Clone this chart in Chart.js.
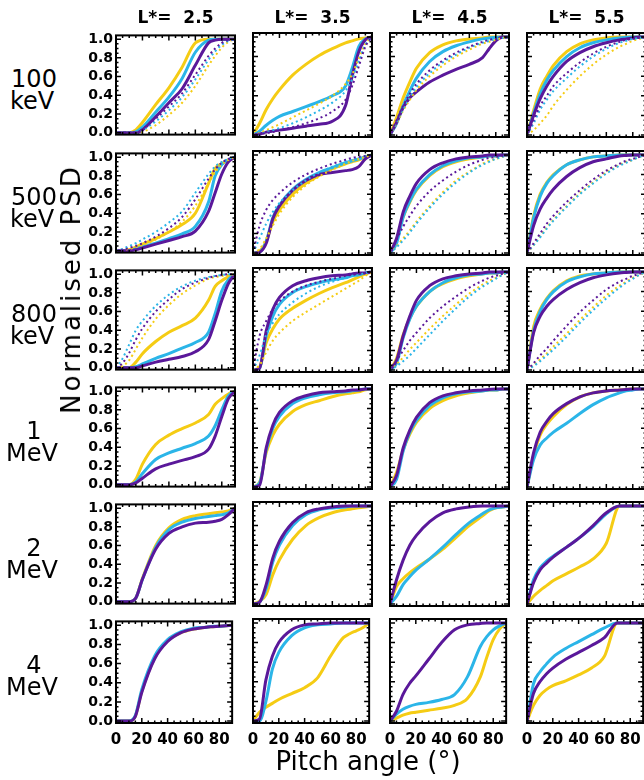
<!DOCTYPE html>
<html>
<head>
<title>Normalised PSD vs pitch angle</title>
<script src="https://cdn.jsdelivr.net/npm/chart.js@4.4.1/dist/chart.umd.min.js"></script>
<style>
body { margin: 0; width: 644px; height: 780px; overflow: hidden; background: #fff; position: relative; font-family: "DejaVu Sans", sans-serif; }
canvas { position: absolute; }
.lbl { position: absolute; white-space: pre; color: #000; transform: translate(-50%, -50%); line-height: 1; }
</style>
</head>
<body>
<script>
// pitch angle grid (deg) shared by every curve
var pitch = [0, 5, 10, 15, 20, 30, 40, 50, 60, 70, 75, 80, 85, 90];
var xTicks = [0, 20, 40, 60, 80];
var yTicks = [0, 0.2, 0.4, 0.6, 0.8, 1.0];
var lStars = ['2.5', '3.5', '4.5', '5.5'];
var energies = ['100', '500', '800', '1', '2', '4'];
var units = ['keV', 'keV', 'keV', 'MeV', 'MeV', 'MeV'];
var colours = ['#5a189a', '#2bb5e8', '#f5cc14'];

// each panel: [purple, cyan, yellow]
var e100_L25 = [[0,0,0,0,0.03,0.17,0.32,0.47,0.72,0.96,0.99,1,1,1],
                [0,0,0,0.01,0.06,0.22,0.38,0.58,0.86,0.99,1,1,1,1],
                [0,0,0,0.03,0.11,0.3,0.48,0.7,0.96,1,1,1,1,1]];
var e100_L25_dot = [[0,0,0,0,0.04,0.15,0.28,0.42,0.62,0.82,0.9,0.96,0.99,1],
                    [0,0,0,0,0.03,0.12,0.24,0.38,0.57,0.78,0.87,0.94,0.98,1],
                    [0,0,0,0,0.01,0.08,0.19,0.32,0.5,0.72,0.82,0.91,0.97,1]];
var e100_L35 = [[0,0.01,0.03,0.04,0.05,0.07,0.09,0.11,0.14,0.3,0.6,0.85,0.97,1],
                [0,0.04,0.1,0.15,0.19,0.24,0.29,0.34,0.4,0.5,0.68,0.9,0.98,1],
                [0,0.12,0.26,0.37,0.46,0.61,0.72,0.81,0.88,0.94,0.96,0.98,0.99,1]];
var e100_L35_dot = [[0,0.01,0.02,0.03,0.05,0.08,0.12,0.17,0.24,0.36,0.5,0.7,0.9,1],
                    [0,0.01,0.03,0.05,0.07,0.12,0.18,0.25,0.33,0.45,0.57,0.75,0.92,1],
                    [0,0.02,0.05,0.08,0.11,0.18,0.25,0.32,0.4,0.52,0.62,0.78,0.93,1]];
var e100_L45 = [[0,0.13,0.28,0.38,0.44,0.54,0.61,0.67,0.72,0.79,0.88,0.96,1,1],
                [0,0.12,0.3,0.45,0.58,0.75,0.85,0.91,0.95,0.98,0.99,0.995,1,1],
                [0,0.18,0.38,0.54,0.68,0.84,0.92,0.96,0.98,0.99,1,1,1,1]];
var e100_L45_dot = [[0,0.15,0.3,0.42,0.52,0.66,0.76,0.84,0.9,0.95,0.97,0.98,0.99,1],
                    [0,0.13,0.27,0.39,0.49,0.63,0.74,0.82,0.89,0.94,0.96,0.98,0.99,1],
                    [0,0.12,0.25,0.36,0.46,0.6,0.71,0.8,0.87,0.93,0.95,0.97,0.99,1]];
var e100_L55 = [[0,0.2,0.37,0.5,0.6,0.75,0.84,0.9,0.94,0.97,0.98,0.99,1,1],
                [0,0.22,0.42,0.56,0.66,0.8,0.89,0.94,0.97,0.99,0.995,1,1,1],
                [0,0.25,0.47,0.6,0.71,0.85,0.93,0.97,0.99,1,1,1,1,1]];
var e100_L55_dot = [[0,0.15,0.3,0.4,0.5,0.63,0.74,0.83,0.9,0.95,0.97,0.98,0.99,1],
                    [0,0.12,0.26,0.36,0.45,0.58,0.7,0.8,0.88,0.94,0.96,0.98,0.99,1],
                    [0,0.05,0.12,0.2,0.3,0.46,0.6,0.72,0.82,0.9,0.93,0.96,0.98,1]];

var e500_L25 = [[0,0,0,0.01,0.03,0.07,0.11,0.15,0.21,0.42,0.62,0.82,0.95,1],
                [0,0,0,0.02,0.04,0.08,0.13,0.18,0.26,0.52,0.8,0.92,0.97,1],
                [0,0,0.01,0.04,0.07,0.13,0.2,0.28,0.4,0.72,0.88,0.93,0.97,1]];
var e500_L25_dot = [[0,0.01,0.03,0.05,0.08,0.15,0.24,0.36,0.55,0.77,0.87,0.94,0.98,1],
                    [0,0.02,0.05,0.08,0.12,0.2,0.3,0.42,0.62,0.82,0.9,0.95,0.98,1],
                    [0,0.01,0.02,0.04,0.06,0.12,0.2,0.31,0.48,0.72,0.84,0.92,0.97,1]];
var e500_L35 = [[0,0.01,0.1,0.35,0.48,0.64,0.74,0.8,0.82,0.84,0.85,0.88,0.96,1],
                [0,0.01,0.12,0.36,0.49,0.65,0.75,0.82,0.87,0.92,0.94,0.96,0.98,1],
                [0,0.02,0.12,0.32,0.44,0.6,0.71,0.79,0.86,0.91,0.93,0.95,0.98,1]];
var e500_L35_dot = [[0,0.28,0.44,0.54,0.61,0.72,0.8,0.86,0.91,0.95,0.97,0.98,0.99,1],
                    [0,0.15,0.3,0.42,0.51,0.64,0.74,0.82,0.88,0.93,0.95,0.97,0.99,1],
                    [0,0.04,0.15,0.28,0.4,0.57,0.69,0.78,0.85,0.91,0.94,0.96,0.98,1]];
var e500_L45 = [[0,0.15,0.42,0.58,0.71,0.85,0.92,0.96,0.98,0.99,1,1,1,1],
                [0,0.1,0.37,0.53,0.65,0.8,0.89,0.94,0.97,0.98,0.99,0.99,1,1],
                [0,0.14,0.37,0.52,0.64,0.79,0.88,0.93,0.96,0.98,0.99,0.99,1,1]];
var e500_L45_dot = [[0,0.14,0.27,0.38,0.48,0.63,0.74,0.83,0.9,0.95,0.97,0.98,0.99,1],
                    [0,0.06,0.13,0.21,0.3,0.46,0.6,0.72,0.82,0.9,0.93,0.96,0.98,1],
                    [0,0.07,0.15,0.23,0.32,0.48,0.62,0.74,0.83,0.91,0.94,0.96,0.98,1]];
var e500_L55 = [[0,0.28,0.45,0.56,0.65,0.78,0.87,0.93,0.96,0.99,0.995,1,1,1],
                [0,0.36,0.58,0.71,0.79,0.9,0.95,0.98,0.99,1,1,1,1,1],
                [0,0.38,0.6,0.72,0.8,0.9,0.95,0.98,0.99,1,1,1,1,1]];
var e500_L55_dot = [[0,0.1,0.2,0.3,0.38,0.52,0.64,0.75,0.84,0.91,0.94,0.96,0.98,1],
                    [0,0.08,0.16,0.25,0.33,0.47,0.6,0.71,0.81,0.89,0.92,0.95,0.98,1],
                    [0,0.08,0.17,0.26,0.34,0.48,0.61,0.72,0.82,0.9,0.93,0.95,0.98,1]];

var e800_L25 = [[0,0,0,0,0.02,0.06,0.09,0.12,0.17,0.3,0.5,0.72,0.9,1],
                [0,0,0,0.01,0.04,0.1,0.15,0.21,0.27,0.38,0.58,0.82,0.94,1],
                [0,0,0,0.06,0.15,0.28,0.38,0.45,0.53,0.72,0.87,0.93,0.97,1]];
var e800_L25_dot = [[0,0.05,0.16,0.3,0.42,0.6,0.73,0.84,0.91,0.96,0.98,0.99,1,1],
                    [0,0.1,0.25,0.4,0.5,0.66,0.78,0.87,0.93,0.97,0.98,0.99,1,1],
                    [0,0.02,0.08,0.2,0.32,0.52,0.67,0.79,0.88,0.95,0.97,0.98,0.99,1]];
var e800_L35 = [[0,0.02,0.4,0.62,0.74,0.86,0.91,0.94,0.96,0.97,0.98,0.99,0.99,1],
                [0,0.02,0.35,0.55,0.67,0.79,0.85,0.89,0.92,0.94,0.96,0.97,0.99,1],
                [0,0.03,0.28,0.42,0.52,0.63,0.71,0.78,0.84,0.89,0.92,0.95,0.98,1]];
var e800_L35_dot = [[0,0.35,0.5,0.62,0.7,0.8,0.86,0.9,0.93,0.96,0.97,0.98,0.99,1],
                    [0,0.15,0.36,0.48,0.57,0.69,0.78,0.85,0.9,0.94,0.96,0.97,0.99,1],
                    [0,0.05,0.18,0.3,0.38,0.5,0.59,0.67,0.75,0.83,0.87,0.91,0.96,1]];
var e800_L45 = [[0,0.1,0.35,0.55,0.71,0.86,0.93,0.96,0.98,0.99,1,1,1,1],
                [0,0.07,0.33,0.52,0.65,0.8,0.89,0.94,0.97,0.98,0.99,0.99,1,1],
                [0,0.12,0.36,0.53,0.65,0.8,0.88,0.93,0.96,0.98,0.99,0.99,1,1]];
var e800_L45_dot = [[0,0.1,0.2,0.3,0.38,0.53,0.65,0.75,0.84,0.91,0.94,0.96,0.98,1],
                    [0,0.04,0.09,0.15,0.22,0.36,0.5,0.63,0.75,0.85,0.89,0.93,0.97,1],
                    [0,0.06,0.13,0.21,0.28,0.42,0.55,0.67,0.78,0.87,0.91,0.94,0.97,1]];
var e800_L55 = [[0,0.38,0.55,0.65,0.72,0.82,0.89,0.94,0.97,0.99,0.995,1,1,1],
                [0,0.4,0.6,0.72,0.8,0.9,0.95,0.98,0.99,1,1,1,1,1],
                [0,0.44,0.62,0.73,0.81,0.91,0.96,0.98,0.99,1,1,1,1,1]];
var e800_L55_dot = [[0,0.07,0.15,0.22,0.3,0.45,0.59,0.71,0.82,0.9,0.93,0.96,0.98,1],
                    [0,0.04,0.09,0.15,0.21,0.34,0.48,0.61,0.73,0.84,0.89,0.93,0.97,1],
                    [0,0.05,0.11,0.17,0.24,0.37,0.51,0.64,0.76,0.86,0.9,0.94,0.97,1]];

var e1M_L25 = [[0,0,0,0.02,0.07,0.17,0.22,0.26,0.3,0.38,0.52,0.73,0.92,1],
               [0,0,0,0.03,0.12,0.27,0.34,0.39,0.44,0.52,0.63,0.8,0.95,1],
               [0,0,0,0.06,0.22,0.43,0.53,0.6,0.66,0.75,0.86,0.92,0.97,1]];
var e1M_L35 = [[0,0.02,0.4,0.63,0.76,0.88,0.93,0.96,0.97,0.98,0.99,0.99,1,1],
               [0,0.04,0.38,0.6,0.72,0.85,0.91,0.94,0.96,0.97,0.98,0.99,1,1],
               [0,0.05,0.35,0.53,0.64,0.77,0.84,0.88,0.92,0.95,0.96,0.97,0.99,1]];
var e1M_L45 = [[0,0.12,0.4,0.58,0.71,0.86,0.93,0.96,0.98,0.99,0.995,1,1,1],
               [0,0.08,0.37,0.56,0.68,0.83,0.91,0.95,0.97,0.98,0.99,0.99,1,1],
               [0,0.15,0.38,0.54,0.66,0.8,0.88,0.93,0.96,0.98,0.99,0.99,1,1]];
var e1M_L55 = [[0,0.35,0.56,0.67,0.75,0.85,0.92,0.96,0.98,0.99,0.995,1,1,1],
               [0,0.28,0.43,0.5,0.56,0.65,0.75,0.84,0.91,0.96,0.98,0.99,1,1],
               [0,0.32,0.53,0.64,0.72,0.84,0.92,0.96,0.98,0.99,0.995,1,1,1]];

var e2M_L25 = [[0,0,0,0.04,0.24,0.56,0.73,0.8,0.84,0.85,0.86,0.88,0.93,1],
               [0,0,0,0.04,0.24,0.58,0.77,0.85,0.89,0.91,0.92,0.93,0.95,1],
               [0,0,0,0.04,0.25,0.6,0.79,0.88,0.92,0.94,0.95,0.96,0.97,1]];
var e2M_L35 = [[0,0.02,0.2,0.47,0.64,0.83,0.93,0.97,0.99,1,1,1,1,1],
               [0,0.02,0.16,0.43,0.6,0.8,0.91,0.96,0.98,0.99,1,1,1,1],
               [0,0.03,0.1,0.3,0.45,0.66,0.8,0.88,0.93,0.96,0.97,0.98,0.99,1]];
var e2M_L45 = [[0,0.25,0.45,0.6,0.7,0.84,0.93,0.97,0.99,1,1,1,1,1],
               [0,0.08,0.2,0.28,0.35,0.46,0.58,0.71,0.83,0.92,0.96,0.98,0.99,1],
               [0,0.18,0.26,0.32,0.37,0.46,0.56,0.68,0.8,0.9,0.95,0.98,0.99,1]];
var e2M_L55 = [[0,0.22,0.35,0.42,0.48,0.58,0.68,0.8,0.93,1,1,1,1,1],
               [0,0.25,0.37,0.44,0.49,0.58,0.68,0.79,0.92,1,1,1,1,1],
               [0,0.08,0.14,0.19,0.24,0.31,0.38,0.46,0.62,1,1,1,1,1]];

var e4M_L25 = [[0,0,0,0.05,0.3,0.65,0.83,0.92,0.96,0.98,0.985,0.99,0.995,1],
               [0,0,0,0.06,0.33,0.68,0.85,0.93,0.97,0.98,0.99,0.99,0.995,1],
               [0,0,0,0.05,0.31,0.66,0.84,0.92,0.96,0.98,0.985,0.99,0.995,1]];
var e4M_L35 = [[0,0.02,0.42,0.66,0.8,0.93,0.98,0.99,1,1,1,1,1,1],
               [0,0,0.2,0.53,0.7,0.87,0.95,0.98,0.99,1,1,1,1,1],
               [0,0.09,0.14,0.18,0.22,0.28,0.34,0.44,0.66,0.85,0.89,0.92,0.95,1]];
var e4M_L45 = [[0,0.1,0.27,0.38,0.46,0.63,0.8,0.93,0.98,0.995,1,1,1,1],
               [0,0.07,0.12,0.15,0.17,0.19,0.22,0.27,0.45,0.76,0.86,0.93,0.97,1],
               [0,0.03,0.06,0.08,0.09,0.11,0.13,0.16,0.23,0.45,0.65,0.83,0.94,1]];
var e4M_L55 = [[0,0.28,0.4,0.48,0.54,0.63,0.7,0.77,0.85,1,1,1,1,1],
               [0,0.38,0.5,0.58,0.65,0.74,0.81,0.88,0.95,1,1,1,1,1],
               [0,0.16,0.26,0.32,0.36,0.41,0.47,0.54,0.66,1,1,1,1,1]];

var solidRows = [
    [e100_L25, e100_L35, e100_L45, e100_L55],
    [e500_L25, e500_L35, e500_L45, e500_L55],
    [e800_L25, e800_L35, e800_L45, e800_L55],
    [e1M_L25, e1M_L35, e1M_L45, e1M_L55],
    [e2M_L25, e2M_L35, e2M_L45, e2M_L55],
    [e4M_L25, e4M_L35, e4M_L45, e4M_L55]
];
var dottedRows = [
    [e100_L25_dot, e100_L35_dot, e100_L45_dot, e100_L55_dot],
    [e500_L25_dot, e500_L35_dot, e500_L45_dot, e500_L55_dot],
    [e800_L25_dot, e800_L35_dot, e800_L45_dot, e800_L55_dot]
];

// layout of the panel grid
var colLeft = [116, 253, 390, 527];
var rowTop = [33, 151, 268, 385, 502, 619];
var panelW = 119, panelH = 104;
var padT = 9;

function addLabel(text, x, y, css) {
    var d = document.createElement('div');
    d.className = 'lbl';
    d.textContent = text;
    d.style.left = x + 'px';
    d.style.top = y + 'px';
    d.style.cssText += css;
    document.body.appendChild(d);
}

// box + inward IDL style ticks on all four sides
var frame = {
    id: 'frame',
    afterDatasetsDraw: function(chart) {
        var ctx = chart.ctx, a = chart.chartArea;
        var x = chart.scales.x, y = chart.scales.y;
        ctx.save();
        ctx.strokeStyle = '#000';
        ctx.lineWidth = 1.5;
        ctx.beginPath();
        for (var v = 0; v <= 90; v += 5) {
            var px = x.getPixelForValue(v);
            var len = v % 20 === 0 ? 5 : 2.5;
            ctx.moveTo(px, a.bottom); ctx.lineTo(px, a.bottom - len);
            ctx.moveTo(px, a.top); ctx.lineTo(px, a.top + len);
        }
        for (var k = 0; k <= 20; k++) {
            var py = y.getPixelForValue(k * 0.05);
            var l2 = k % 4 === 0 ? 5 : 2.5;
            ctx.moveTo(a.left, py); ctx.lineTo(a.left + l2, py);
            ctx.moveTo(a.right, py); ctx.lineTo(a.right - l2, py);
        }
        ctx.stroke();
        ctx.lineWidth = 2;
        ctx.strokeRect(a.left, a.top, a.right - a.left, a.bottom - a.top);
        ctx.restore();
    }
};

function makeSet(vals, colour, dotted) {
    return {
        data: pitch.map(function(p, i) { return {x: p, y: vals[i]}; }),
        borderColor: colour,
        borderWidth: dotted ? 2 : 3,
        borderDash: dotted ? [2, 3] : [],
        pointRadius: 0,
        fill: false,
        cubicInterpolationMode: 'monotone'
    };
}

for (var r = 0; r < 6; r++) {
    for (var c = 0; c < 4; c++) {
        var padL = c === 0 ? 44 : 16;
        var padB = r === 5 ? 30 : 9;
        var cv = document.createElement('canvas');
        cv.width = padL + panelW + 3;
        cv.height = padT + panelH + padB;
        cv.style.left = (colLeft[c] - padL) + 'px';
        cv.style.top = (rowTop[r] - padT) + 'px';
        document.body.appendChild(cv);

        var sets = [];
        if (r < dottedRows.length) {
            dottedRows[r][c].forEach(function(v, i) { sets.push(makeSet(v, colours[i], true)); });
        }
        solidRows[r][c].forEach(function(v, i) { sets.push(makeSet(v, colours[i], false)); });

        (function(padL, padB, showX, showY) {
            new Chart(cv, {
                type: 'line',
                data: { datasets: sets },
                options: {
                    responsive: false,
                    animation: false,
                    events: [],
                    layout: { padding: { top: padT, right: 3, left: 0, bottom: 0 } },
                    plugins: { legend: { display: false }, tooltip: { enabled: false } },
                    scales: {
                        x: {
                            type: 'linear', min: 0, max: 90,
                            grid: { display: false, drawTicks: false }, border: { display: false },
                            ticks: {
                                display: showX, color: '#000', padding: 8, maxRotation: 0, autoSkip: false,
                                font: { family: 'DejaVu Sans', size: 15, weight: 'bold' }
                            },
                            afterBuildTicks: function(s) { s.ticks = xTicks.map(function(v) { return {value: v}; }); },
                            afterFit: function(s) { s.height = padB; }
                        },
                        y: {
                            type: 'linear', min: -0.02, max: 1.04,
                            grid: { display: false, drawTicks: false }, border: { display: false },
                            ticks: {
                                display: showY, color: '#000', padding: 3, autoSkip: false,
                                font: { family: 'DejaVu Sans', size: 14, weight: 'bold' },
                                callback: function(v) { return v.toFixed(1); }
                            },
                            afterBuildTicks: function(s) { s.ticks = yTicks.map(function(v) { return {value: v}; }); },
                            afterFit: function(s) { s.width = padL; }
                        }
                    }
                },
                plugins: [frame]
            });
        })(padL, padB, r === 5, c === 0);
    }
}

// column titles
lStars.forEach(function(l, c) {
    addLabel('L*=  ' + l, colLeft[c] + panelW / 2, 17, 'font-size:17px;font-weight:bold;');
});
// row labels
energies.forEach(function(e, r) {
    addLabel(e, 34, rowTop[r] + 46, 'font-size:24px;');
    addLabel(units[r], 32, rowTop[r] + 68, 'font-size:24px;');
});
addLabel('Normalised PSD', 71, 289, 'font-size:26px;letter-spacing:3px;transform:translate(-50%,-50%) rotate(-90deg);');
addLabel('Pitch angle (\u00b0)', 368, 761, 'font-size:26px;');
</script>
</body>
</html>
